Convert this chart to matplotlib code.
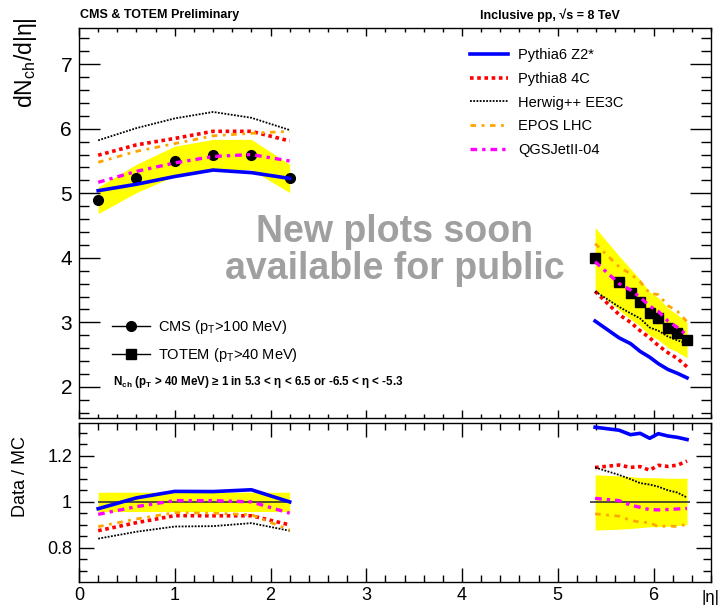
import numpy as np
import matplotlib
matplotlib.use("Agg")
import matplotlib.pyplot as plt
from matplotlib.lines import Line2D
from matplotlib.ticker import MultipleLocator, FixedLocator, FixedFormatter

plt.rcParams["font.family"] = ["Liberation Sans", "DejaVu Sans"]
plt.rcParams["mathtext.fontset"] = "custom"
plt.rcParams["mathtext.rm"] = "Liberation Sans"
plt.rcParams["mathtext.it"] = "Liberation Sans:italic"
plt.rcParams["mathtext.bf"] = "Liberation Sans:bold"

# CMS data (|eta| < 2.2)
eta_cms = [0.2, 0.6, 1.0, 1.4, 1.8, 2.2]
data_cms = [4.89, 5.23, 5.50, 5.60, 5.60, 5.23]
err_cms = [0.205, 0.22, 0.23, 0.235, 0.235, 0.22]

# TOTEM data (5.3 < |eta| < 6.5)
eta_totem = [5.39, 5.64, 5.76, 5.86, 5.96, 6.05, 6.15, 6.25, 6.35]
data_totem = [4.00, 3.62, 3.45, 3.31, 3.14, 3.06, 2.92, 2.83, 2.72]
err_totem_hi = [0.47, 0.41, 0.38, 0.35, 0.33, 0.32, 0.30, 0.29, 0.28]
err_totem_lo = [0.49, 0.43, 0.40, 0.37, 0.34, 0.33, 0.31, 0.29, 0.27]

# MC predictions, CMS region
pythia6_cms = [5.04, 5.14, 5.26, 5.36, 5.32, 5.23]
pythia8_cms = [5.59, 5.75, 5.85, 5.96, 5.96, 5.81]
herwig_cms = [5.82, 6.01, 6.16, 6.26, 6.17, 5.98]
epos_cms = [5.48, 5.65, 5.77, 5.89, 5.93, 5.96]
qgsjet_cms = [5.17, 5.34, 5.47, 5.57, 5.60, 5.50]

# MC predictions, TOTEM region
pythia6_totem = [3.02, 2.76, 2.67, 2.55, 2.46, 2.36, 2.27, 2.21, 2.14]
pythia8_totem = [3.48, 3.12, 3.00, 2.87, 2.76, 2.64, 2.53, 2.44, 2.31]
herwig_totem = [3.48, 3.24, 3.14, 3.06, 2.92, 2.87, 2.78, 2.72, 2.67]
epos_totem = [4.22, 3.86, 3.75, 3.63, 3.45, 3.43, 3.26, 3.17, 3.01]
qgsjet_totem = [3.94, 3.60, 3.50, 3.39, 3.25, 3.17, 3.02, 2.92, 2.80]

mc_names = ["Pythia6 Z2*", "Pythia8 4C", "Herwig++ EE3C", "EPOS LHC", "QGSJetII-04"]
mc_cms = [pythia6_cms, pythia8_cms, herwig_cms, epos_cms, qgsjet_cms]
mc_totem = [pythia6_totem, pythia8_totem, herwig_totem, epos_totem, qgsjet_totem]

mc_styles = [
    dict(color="#0000ff", lw=2.6, ls="-"),
    dict(color="#ff0000", lw=2.6, ls=(0, (1, 1))),
    dict(color="black", lw=1.3, ls=(0, (1, 0.8))),
    dict(color="#ffa500", lw=2.0, ls=(0, (2, 2, 1, 2))),
    dict(color="#ff00ff", lw=2.4, ls=(0, (2, 1.5, 1, 1.5))),
]

YELLOW = "#ffff00"


def style_axes(ax, xmaj_len, ymaj_len):
    ax.xaxis.set_major_locator(MultipleLocator(1))
    ax.xaxis.set_minor_locator(MultipleLocator(0.2))
    ax.tick_params(which="both", direction="in", top=True, right=True, width=1)
    ax.tick_params(axis="x", which="major", length=xmaj_len)
    ax.tick_params(axis="x", which="minor", length=xmaj_len / 2)
    ax.tick_params(axis="y", which="major", length=ymaj_len)
    ax.tick_params(axis="y", which="minor", length=ymaj_len / 2)
    for s in ax.spines.values():
        s.set_linewidth(1)


def plot_top(ax):
    ax.fill_between(eta_cms, np.array(data_cms) - err_cms, np.array(data_cms) + err_cms,
                    color=YELLOW, lw=0, zorder=1)
    ax.fill_between(eta_totem, np.array(data_totem) - err_totem_lo,
                    np.array(data_totem) + err_totem_hi, color=YELLOW, lw=0, zorder=1)

    ax.plot(eta_cms, data_cms, "o", color="black", ms=7, zorder=3)
    ax.plot(eta_totem, data_totem, "s", color="black", ms=7.5, zorder=3)

    for name, c, t, st in zip(mc_names, mc_cms, mc_totem, mc_styles):
        ax.plot(eta_cms, c, zorder=4, **st)
        ax.plot(eta_totem, t, zorder=4, label=name, **st)

    ax.set_xlim(0, 6.6)
    ax.set_ylim(1.52, 7.56)
    style_axes(ax, 6, 15)
    ax.yaxis.set_major_locator(MultipleLocator(1))
    ax.yaxis.set_minor_locator(MultipleLocator(0.2))
    ax.tick_params(axis="x", labelbottom=False)
    ax.tick_params(axis="y", labelsize=15, pad=5)

    # MC legend (top right)
    leg = ax.legend(loc="upper left", bbox_to_anchor=(0.619, 0.948), frameon=False,
                    fontsize=10.5, handlelength=2.6, handletextpad=0.68,
                    labelspacing=0.66, borderpad=0, borderaxespad=0)
    ax.add_artist(leg)

    # data legend (bottom left)
    handles = [
        Line2D([], [], color="black", lw=1, marker="o", ms=7),
        Line2D([], [], color="black", lw=1, marker="s", ms=7),
    ]
    ax.legend(handles, [r"CMS (p$_{\rm T}$>100 MeV)", r"TOTEM (p$_{\rm T}$>40 MeV)"],
              loc="upper left", bbox_to_anchor=(0.052, 0.257), frameon=False,
              fontsize=10.5, handlelength=2.6, handletextpad=0.55, labelspacing=0.7,
              borderpad=0, borderaxespad=0)

    ax.text(0.054, 0.092,
            r"N$_{\mathbf{ch}}$ (p$_{\mathbf{T}}$ > 40 MeV) ≥ 1 in 5.3 < η < 6.5 or -6.5 < η < -5.3",
            transform=ax.transAxes, fontsize=8.4, fontweight="bold", va="center")

    ax.text(0.5, 0.43, "New plots soon\navailable for public", transform=ax.transAxes,
            ha="center", va="center", fontsize=27, fontweight="bold",
            color="#a0a0a0", linespacing=1.05, zorder=5)


def plot_ratio(ax):
    ratio_band_cms = np.array(err_cms) / np.array(data_cms)
    ax.fill_between(eta_cms, 1 - ratio_band_cms, 1 + ratio_band_cms, color=YELLOW, lw=0, zorder=1)
    ax.fill_between(eta_totem, 1 - np.array(err_totem_lo) / np.array(data_totem),
                    1 + np.array(err_totem_hi) / np.array(data_totem), color=YELLOW, lw=0, zorder=1)

    ax.hlines(1, eta_cms[0], eta_cms[-1], color="#333333", lw=1.2, zorder=2)
    ax.hlines(1, eta_totem[0] - 0.05, eta_totem[-1] + 0.03, color="#333333", lw=1.2, zorder=2)

    for c, t, st in zip(mc_cms, mc_totem, mc_styles):
        ax.plot(eta_cms, np.array(data_cms) / np.array(c), zorder=4, **st)
        ax.plot(eta_totem, np.array(data_totem) / np.array(t), zorder=4, **st)

    ax.set_xlim(0, 6.6)
    ax.set_ylim(0.652, 1.343)
    style_axes(ax, 10, 11)
    ax.yaxis.set_major_locator(FixedLocator([0.8, 1.0, 1.2]))
    ax.yaxis.set_major_formatter(FixedFormatter(["0.8", "1", "1.2"]))
    ax.yaxis.set_minor_locator(MultipleLocator(0.05))
    ax.tick_params(axis="both", labelsize=13)
    ax.tick_params(axis="y", pad=5)
    ax.tick_params(axis="x", pad=4)


def main():
    fig = plt.figure(figsize=(7.21, 6.10), dpi=100)
    ax_top = fig.add_axes([0.1096, 0.315, 0.8765, 0.639])
    ax_rat = fig.add_axes([0.1096, 0.046, 0.8765, 0.2606])

    plot_top(ax_top)
    plot_ratio(ax_rat)

    # header texts and axis titles
    fig.text(0.111, 0.975, "CMS & TOTEM Preliminary", fontsize=9, fontweight="bold",
             va="center")
    fig.text(0.666, 0.975, "Inclusive pp, √s = 8 TeV", fontsize=9, fontweight="bold",
             va="center", ha="left")
    fig.text(0.035, 0.897, r"dN$_{\rm ch}$/d|η|", rotation=90, fontsize=16.5,
             ha="center", va="center")
    fig.text(0.028, 0.218, "Data / MC", rotation=90, fontsize=13, ha="center", va="center")
    fig.text(0.985, 0.02, "|η|", fontsize=12, ha="center", va="center")

    fig.savefig("out.png", dpi=100)
    plt.close(fig)


if __name__ == "__main__":
    main()
